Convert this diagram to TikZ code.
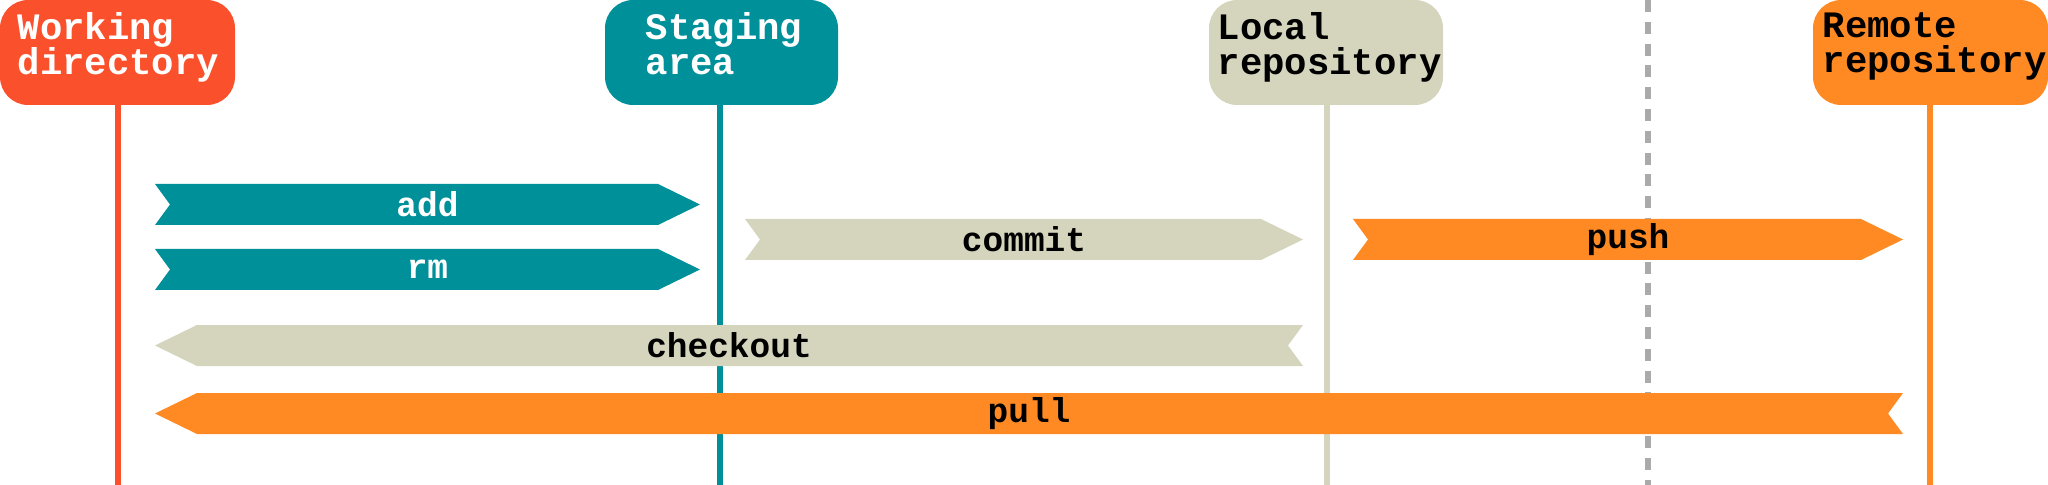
\documentclass[tikz,border=0pt]{standalone}
\usepackage{fontspec}
\setmonofont{Liberation Mono}
\usetikzlibrary{calc}
\definecolor{wdred}{HTML}{FA512C}
\definecolor{stteal}{HTML}{00909A}
\definecolor{lrbeige}{HTML}{D5D4BC}
\definecolor{rmorange}{HTML}{FF8A24}
\definecolor{divgray}{HTML}{AAAAAA}
\tikzset{
  header/.style={rounded corners=8, align=left, anchor=north west, inner sep=0pt,
    font=\ttfamily\bfseries\fontsize{10.6pt}{10pt}\selectfont},
  flow/.style={font=\ttfamily\bfseries\fontsize{9.8pt}{10pt}\selectfont},
  lane/.style={line width=1.7pt}
}
% right arrow: x1 x2 ytop ybot colour textcolour label
\newcommand{\rarrow}[7]{\fill[#5] (#1,#3) -- ( #2-42 ,#3) -- (#2, #3/2+#4/2 ) -- ( #2-42 ,#4) -- (#1,#4) -- ( #1+15 , #3/2+#4/2 ) -- cycle;
  \node[flow,text=#6] at ( #1/2+#2/2 , #3/2+#4/2 ) {#7};}
% left arrow
\newcommand{\larrow}[7]{\fill[#5] (#2,#3) -- ( #1+42 ,#3) -- (#1, #3/2+#4/2 ) -- ( #1+42 ,#4) -- (#2,#4) -- ( #2-15 , #3/2+#4/2 ) -- cycle;
  \node[flow,text=#6] at ( #1/2+#2/2 , #3/2+#4/2 ) {#7};}
\begin{document}
\begin{tikzpicture}[x=0.01cm,y=-0.01cm]
  \useasboundingbox (0,0) rectangle (2048,485);
  % lanes
  \draw[wdred,lane] (118,0) -- (118,485);
  \draw[stteal,lane] (720,0) -- (720,485);
  \draw[lrbeige,lane] (1327,0) -- (1327,485);
  \draw[rmorange,lane] (1930,0) -- (1930,485);
  \draw[divgray,lane,dash pattern=on 3.4pt off 2.8pt] (1648,0) -- (1648,485);
  % headers
  \fill[wdred,rounded corners=8] (0,0) rectangle (235,105);
  \fill[stteal,rounded corners=8] (605,0) rectangle (838,105);
  \fill[lrbeige,rounded corners=8] (1209,0) rectangle (1443,105);
  \fill[rmorange,rounded corners=8] (1813,0) rectangle (2048,105);
  \node[header,text=white] (wd) at (17,12) {Working\\directory};
  \node[header,text=white] (st) at (645,12) {Staging\\area};
  \node[header,text=black] (lr) at (1217,12) {Local\\repository};
  \node[header,text=black] (rr) at (1822,12) {Remote\\repository};
  % commands
  \rarrow{155}{700}{184}{225}{stteal}{white}{add}
  \rarrow{155}{700}{249}{290}{stteal}{white}{rm}
  \rarrow{745}{1303}{219}{260}{lrbeige}{black}{commit}
  \rarrow{1353}{1903}{219}{260}{rmorange}{black}{push}
  \larrow{155}{1303}{325}{366}{lrbeige}{black}{checkout}
  \larrow{155}{1903}{393}{434}{rmorange}{black}{pull}
\end{tikzpicture}
\end{document}
